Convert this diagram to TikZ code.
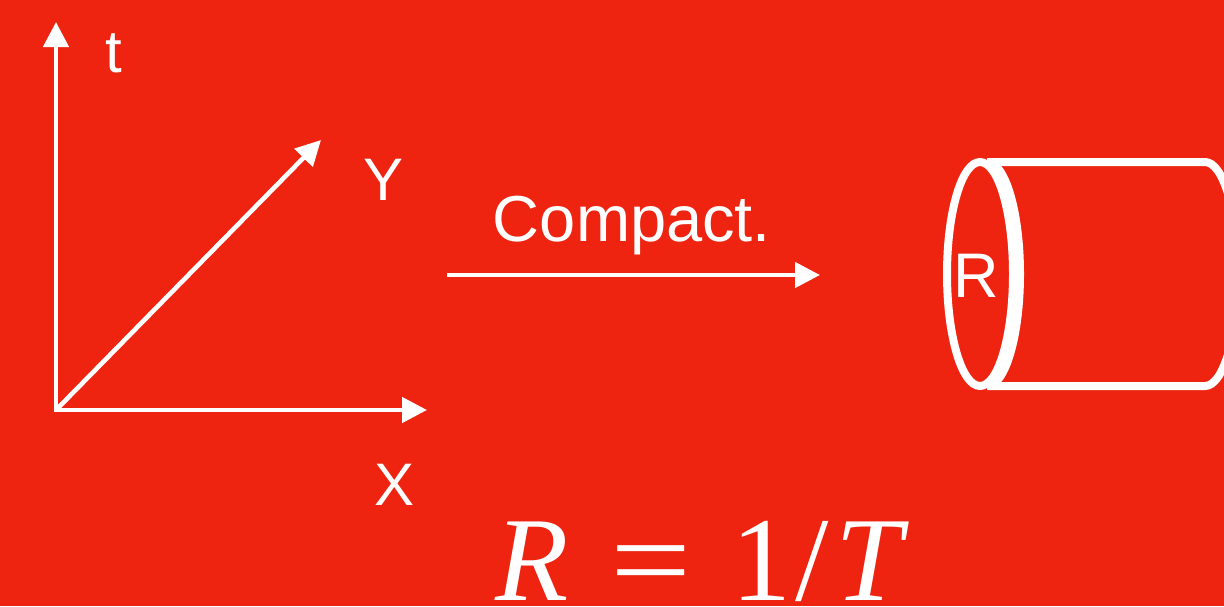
\documentclass[tikz,border=0pt]{standalone}
\usepackage{fontspec}
\usepackage{graphicx}
\setmainfont{Liberation Sans}
\newfontfamily\formulafont{Liberation Serif}
\usetikzlibrary{arrows.meta}
\definecolor{bg}{RGB}{238,35,16}
\begin{document}
\begin{tikzpicture}[x=0.5pt,y=-0.5pt,
  axis/.style={draw=white, line width=2.3pt, -{Triangle[length=12.5pt,width=12.5pt]}},
  lbl/.style={text=white, anchor=base, inner sep=0pt, font=\fontsize{30}{36}\selectfont},
  cyl/.style={draw=white, line width=4pt}]
\fill[bg] (0,0) rectangle (1224,606);
\useasboundingbox (0,0) rectangle (1224,606);
% axes
\coordinate (O) at (56,410);
\coordinate (tend) at (56,22);
\coordinate (xend) at (427,410);
\coordinate (yend) at (321,140);
\draw[axis] (O) -- (tend);
\draw[axis] ([xshift=-1.1pt]O) -- (xend);
\draw[axis] (O) -- (yend);
\node[lbl] (t) at (114,72) {t};
\node[lbl] (y) at (384,200) {Y};
\node[lbl] (x) at (395,505) {X};
% compactification arrow
\coordinate (cs) at (447,275);
\coordinate (ce) at (820,275);
\draw[axis] (cs) -- (ce);
\node[lbl, font=\fontsize{32.5}{38}\selectfont] (compact) at (632,241) {Compact.};
% cylinder
\begin{scope}
\clip (0,0) rectangle (1224,606);
\draw[cyl] (987,162) -- (1205,162) arc[start angle=90, end angle=-90, x radius=16.5pt, y radius=56pt] -- (987,386);
\draw[cyl] (980,274) ellipse [x radius=16.5pt, y radius=56pt];
\draw[cyl] (987,162) arc[start angle=90, end angle=-90, x radius=16.5pt, y radius=56pt];
\end{scope}
\node[lbl, font=\fontsize{31.5}{38}\selectfont] (r) at (976,297) {R};
% formula
\node[text=white, anchor=base, inner sep=0pt, font=\formulafont\fontsize{60}{72}\selectfont] (f) at (702,600) {\textit{R}\hspace{21pt}\scalebox{1.2}[1]{=}\hspace{20pt}1\hspace{2pt}/\hspace{3pt}\textit{T}};
\end{tikzpicture}
\end{document}
